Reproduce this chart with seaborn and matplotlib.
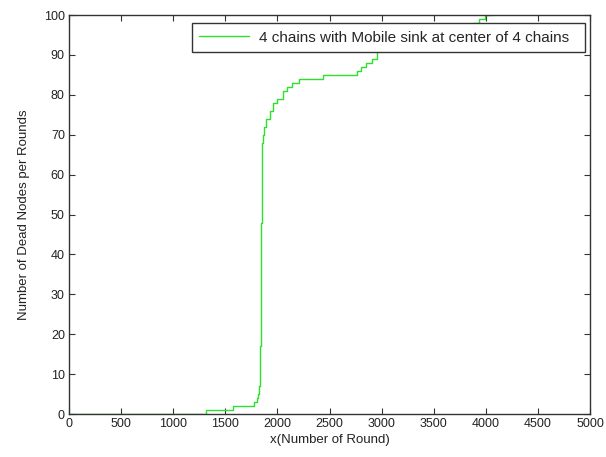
import matplotlib
matplotlib.use("Agg")
import matplotlib.pyplot as plt
import seaborn as sns
import pandas as pd

# Round at which the count of dead nodes steps up, and the new count
rounds = [0, 1310, 1570, 1775, 1800, 1815, 1825, 1832, 1836, 1843, 1850, 1856,
          1864, 1873, 1890, 1930, 1960, 1993, 2050, 2095, 2138, 2210, 2435,
          2765, 2798, 2852, 2908, 2956, 3080, 3220, 3370, 3500, 3630, 3760,
          3877, 3935, 3992, 4060]
dead_nodes = [0, 1, 2, 3, 4, 5, 7, 10, 17, 48, 63, 68,
              70, 72, 74, 76, 78, 79, 81, 82, 83, 84, 85,
              86, 87, 88, 89, 91, 92, 93, 94, 95, 96, 97,
              98, 99, 100, 100]

x_ticks = [0, 500, 1000, 1500, 2000, 2500, 3000, 3500, 4000, 4500, 5000]
y_ticks = [0, 10, 20, 30, 40, 50, 60, 70, 80, 90, 100]
series_label = "4 chains with Mobile sink at center of 4 chains"
x_label = "x(Number of Round)"
y_label = "Number of Dead Nodes per Rounds"

sns.set_theme(style="white")
plt.rcParams["font.family"] = ["Liberation Sans", "DejaVu Sans"]

df = pd.DataFrame({"round": rounds, "dead": dead_nodes})

fig = plt.figure(figsize=(6.06, 4.57), dpi=100)
ax = fig.add_axes([0.1139, 0.094, 0.8597, 0.873])

# trailing spaces give the legend box its wider right margin
sns.lineplot(data=df, x="round", y="dead", ax=ax, estimator=None, sort=False,
             drawstyle="steps-post", color="#2ee02e", linewidth=1.0,
             label=series_label + "  ")

ax.set_xlim(0, 5000)
ax.set_ylim(0, 100)
ax.set_xticks(x_ticks)
ax.set_yticks(y_ticks)
ax.set_xticklabels([str(t) for t in x_ticks], fontsize=9)
ax.set_yticklabels([str(t) for t in y_ticks], fontsize=9)
ax.tick_params(direction="in", length=4, width=0.8, top=True, right=True,
               bottom=True, left=True, colors="#333333", pad=3)
for lab in ax.get_xticklabels() + ax.get_yticklabels():
    lab.set_color("#222222")
for s in ax.spines.values():
    s.set_color("#333333")
    s.set_linewidth(1.0)

ax.set_xlabel(x_label, fontsize=9.5, color="#222222", labelpad=3)
ax.set_ylabel(y_label, fontsize=9.5, color="#222222", labelpad=10)

leg = ax.legend(loc="upper right", bbox_to_anchor=(1 - 5 / 521, 1 - 8 / 399),
                frameon=True, fancybox=False,
                prop={"family": ["Liberation Sans", "DejaVu Sans"], "size": 11},
                borderaxespad=0.0, handlelength=3.27, handletextpad=0.62,
                borderpad=0.5)
leg.get_frame().set_edgecolor("#333333")
leg.get_frame().set_linewidth(1.0)
leg.get_frame().set_alpha(1.0)

fig.savefig("out.png", dpi=100, facecolor="white")
